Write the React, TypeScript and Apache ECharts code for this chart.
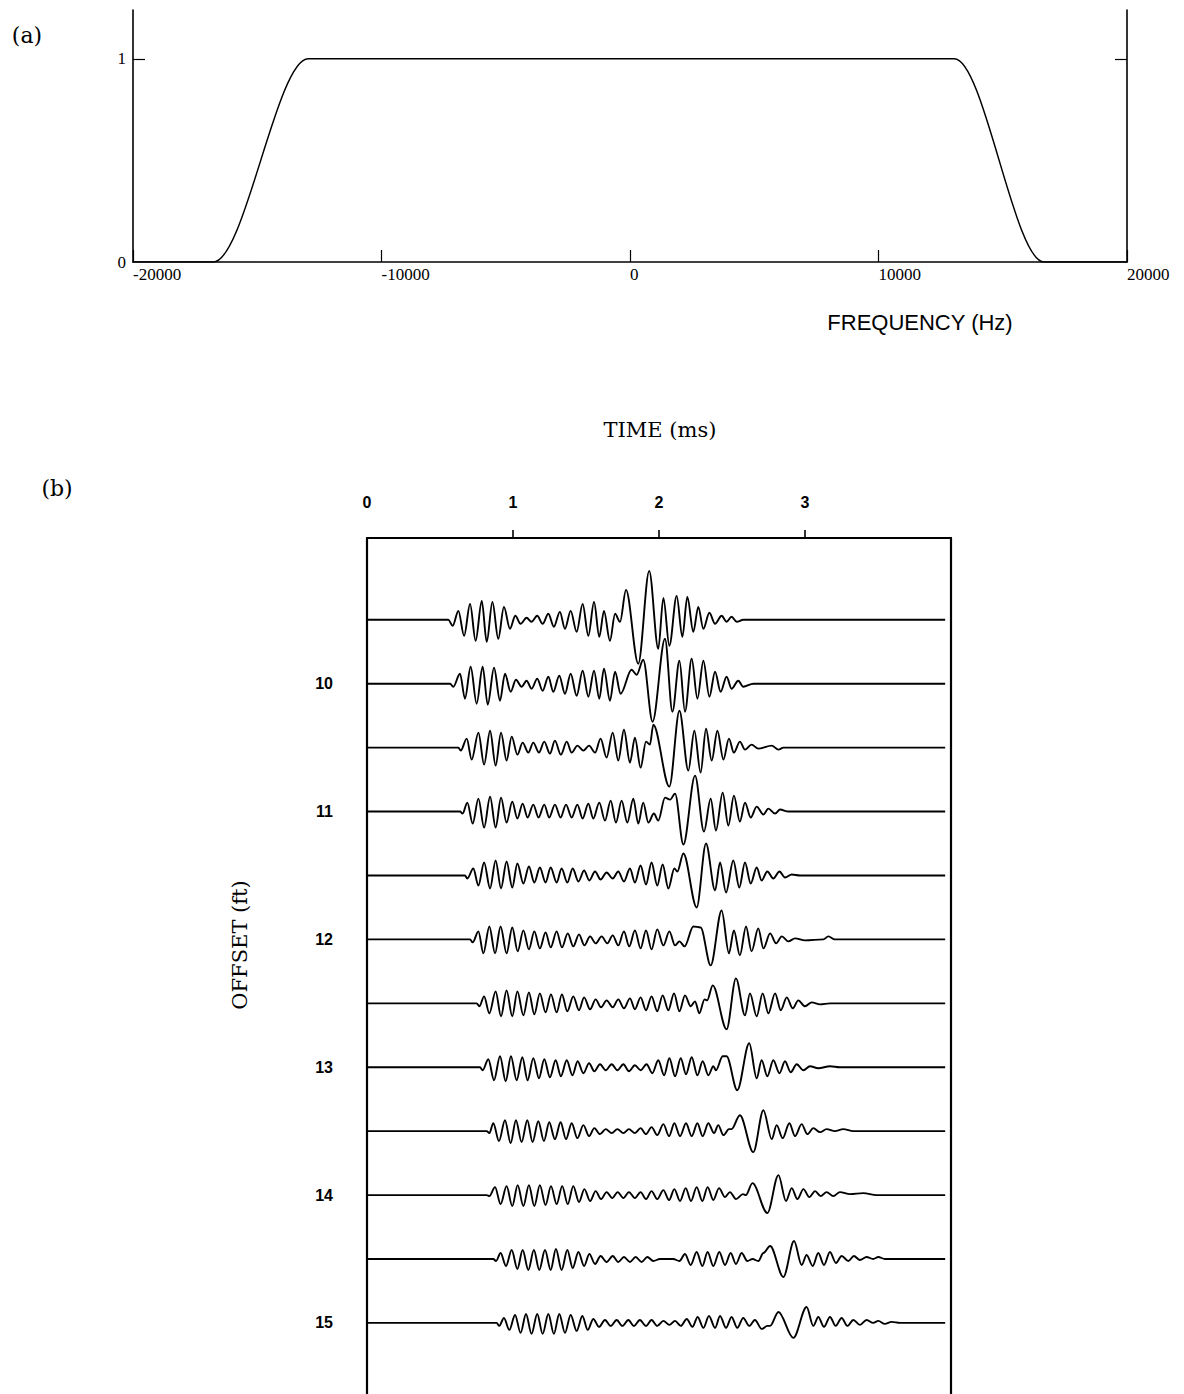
import React, { useEffect, useRef } from "react";
import * as echarts from "echarts";

// ---------- Panel (a): filter response ----------
const FILTER_FREQ = [-20000, -16770, -12950, 13050, 16660, 20000];
const FILTER_GAIN = [0, 0, 1, 1, 0, 0];
const FREQ_LABELS = [-20000, -10000, 0, 10000, 20000];
const GAIN_LABELS = [0, 1];

// ---------- Panel (b): traces ----------
const TIME_LABELS = [0, 1, 2, 3];
const TIME_TICKS = [1, 2, 3];
const OFFSET_LABELS = [10, 11, 12, 13, 14, 15];
const TRACE_OFFSETS = [9.5, 10, 10.5, 11, 11.5, 12, 12.5, 13, 13.5, 14, 14.5, 15];
const TRACE_START = 0;
const TRACE_END = 3.96;
const AMP_GAIN = 1 / 128; // ft of offset per amplitude unit

// [time ms, amplitude] at each peak / trough
const TRACE_1 = [[0.557,0],[0.587,-6],[0.626,9],[0.665,-16],[0.706,16],[0.744,-21],[0.786,19],[0.820,-22],[0.859,18],[0.899,-19],[0.938,13],[0.979,-9],[1.016,4],[1.052,-4],[1.093,2],[1.127,-2],[1.166,4],[1.203,-4],[1.242,6],[1.280,-7],[1.321,8],[1.356,-9],[1.395,9],[1.436,-12],[1.477,16],[1.516,-16],[1.555,18],[1.591,-17],[1.623,9],[1.664,-21],[1.699,6],[1.733,-2],[1.774,30],[1.858,-44],[1.933,49],[1.995,-29],[2.030,22],[2.071,-26],[2.121,24],[2.160,-17],[2.194,23],[2.235,-12],[2.269,13],[2.304,-9],[2.345,7],[2.384,-4],[2.429,4],[2.463,-2],[2.497,3],[2.532,-2],[2.577,0]];
const TRACE_2 = [[0.569,0],[0.591,-3],[0.637,10],[0.671,-15],[0.710,17],[0.751,-20],[0.792,17],[0.827,-21],[0.870,16],[0.911,-17],[0.945,10],[0.984,-8],[1.020,4],[1.059,-3],[1.093,3],[1.127,-5],[1.166,5],[1.203,-7],[1.242,7],[1.276,-8],[1.317,8],[1.356,-10],[1.395,10],[1.436,-12],[1.477,13],[1.516,-13],[1.555,13],[1.591,-15],[1.623,15],[1.664,-17],[1.699,12],[1.737,-10],[1.812,14],[1.847,9],[1.892,24],[1.956,-38],[2.041,45],[2.092,-28],[2.140,23],[2.178,-28],[2.224,25],[2.263,-15],[2.304,23],[2.345,-13],[2.384,12],[2.422,-8],[2.463,7],[2.497,-5],[2.543,3],[2.577,-3],[2.646,0]];
const TRACE_3 = [[0.626,0],[0.642,-3],[0.683,9],[0.717,-12],[0.763,15],[0.802,-17],[0.843,17],[0.881,-18],[0.918,15],[0.956,-13],[0.991,11],[1.030,-7],[1.066,5],[1.105,-5],[1.139,5],[1.178,-5],[1.214,6],[1.253,-6],[1.287,7],[1.328,-7],[1.368,6],[1.402,-5],[1.441,2],[1.482,-3],[1.521,2],[1.562,-5],[1.600,9],[1.641,-10],[1.683,15],[1.721,-13],[1.760,18],[1.801,-15],[1.835,10],[1.874,-20],[1.911,6],[1.938,3],[1.961,23],[2.071,-39],[2.140,37],[2.201,-23],[2.242,17],[2.285,-25],[2.322,19],[2.361,-13],[2.400,17],[2.441,-12],[2.479,9],[2.513,-5],[2.554,6],[2.589,-2],[2.634,3],[2.680,-1],[2.772,2],[2.818,-2],[2.852,0]];
const TRACE_4 = [[0.637,0],[0.655,-2],[0.687,9],[0.724,-12],[0.763,13],[0.802,-16],[0.843,15],[0.881,-16],[0.918,14],[0.956,-11],[0.995,10],[1.030,-7],[1.066,8],[1.100,-6],[1.139,7],[1.175,-6],[1.214,7],[1.248,-6],[1.287,7],[1.326,-6],[1.363,7],[1.402,-6],[1.441,7],[1.477,-7],[1.516,8],[1.550,-7],[1.591,9],[1.630,-9],[1.669,11],[1.705,-11],[1.744,11],[1.783,-11],[1.824,13],[1.858,-12],[1.892,9],[1.927,-11],[1.965,-2],[1.995,-9],[2.041,14],[2.076,12],[2.110,18],[2.167,-33],[2.247,36],[2.308,-20],[2.354,13],[2.390,-19],[2.436,19],[2.475,-14],[2.513,16],[2.554,-10],[2.589,9],[2.628,-6],[2.669,5],[2.715,-3],[2.749,3],[2.795,-2],[2.829,2],[2.886,0]];
const TRACE_5 = [[0.671,0],[0.687,-3],[0.728,7],[0.763,-10],[0.802,13],[0.843,-13],[0.881,15],[0.918,-13],[0.956,14],[0.995,-12],[1.030,12],[1.071,-8],[1.109,9],[1.146,-7],[1.184,8],[1.223,-7],[1.258,8],[1.299,-7],[1.333,7],[1.372,-7],[1.409,7],[1.448,-6],[1.487,5],[1.523,-5],[1.562,4],[1.600,-4],[1.641,3],[1.683,-3],[1.721,4],[1.760,-6],[1.801,7],[1.835,-7],[1.874,10],[1.911,-9],[1.949,13],[1.988,-10],[2.025,11],[2.064,-13],[2.105,7],[2.126,4],[2.167,22],[2.258,-32],[2.322,32],[2.384,-15],[2.418,13],[2.459,-17],[2.509,15],[2.550,-12],[2.589,13],[2.628,-8],[2.669,8],[2.703,-5],[2.742,4],[2.783,-3],[2.825,4],[2.863,-2],[2.909,1],[2.966,0]];
const TRACE_6 = [[0.706,0],[0.724,-3],[0.763,8],[0.797,-14],[0.838,13],[0.877,-14],[0.915,13],[0.956,-14],[0.995,12],[1.032,-12],[1.071,9],[1.109,-10],[1.146,8],[1.184,-9],[1.223,7],[1.258,-8],[1.299,8],[1.335,-8],[1.375,6],[1.413,-7],[1.452,5],[1.489,-6],[1.528,3],[1.566,-4],[1.607,3],[1.646,-4],[1.683,4],[1.721,-6],[1.760,8],[1.796,-7],[1.835,9],[1.874,-9],[1.911,9],[1.949,-10],[1.988,10],[2.030,-6],[2.071,8],[2.110,-6],[2.140,-2],[2.175,-7],[2.235,13],[2.285,12],[2.354,-26],[2.429,29],[2.479,-14],[2.513,9],[2.554,-16],[2.596,13],[2.634,-12],[2.680,11],[2.715,-9],[2.761,6],[2.802,-4],[2.841,3],[2.886,-2],[2.932,1],[3.000,-1],[3.126,0],[3.160,3],[3.205,0]];
const TRACE_7 = [[0.751,0],[0.770,-3],[0.802,7],[0.838,-10],[0.881,12],[0.918,-13],[0.956,13],[0.995,-13],[1.030,12],[1.071,-12],[1.109,11],[1.146,-11],[1.184,10],[1.223,-9],[1.260,9],[1.299,-9],[1.335,9],[1.372,-8],[1.413,7],[1.452,-7],[1.487,6],[1.528,-6],[1.566,4],[1.603,-4],[1.641,3],[1.683,-4],[1.721,4],[1.760,-5],[1.801,5],[1.835,-6],[1.874,6],[1.911,-7],[1.949,7],[1.988,-8],[2.025,8],[2.064,-7],[2.103,10],[2.140,-8],[2.178,8],[2.217,-3],[2.247,2],[2.276,-10],[2.312,4],[2.330,3],[2.368,18],[2.463,-26],[2.527,25],[2.589,-12],[2.623,10],[2.669,-13],[2.710,10],[2.749,-10],[2.795,10],[2.834,-7],[2.875,6],[2.916,-5],[2.954,3],[3.000,-3],[3.046,1],[3.103,-1],[3.171,0]];
const TRACE_8 = [[0.774,0],[0.792,-3],[0.831,8],[0.870,-13],[0.911,11],[0.950,-14],[0.986,11],[1.025,-13],[1.064,10],[1.100,-13],[1.139,9],[1.178,-11],[1.214,8],[1.253,-10],[1.292,7],[1.328,-9],[1.368,7],[1.407,-8],[1.443,6],[1.482,-6],[1.521,4],[1.557,-4],[1.596,3],[1.635,-3],[1.676,3],[1.715,-3],[1.756,3],[1.794,-4],[1.835,2],[1.874,-3],[1.915,3],[1.954,-6],[1.995,7],[2.035,-8],[2.071,9],[2.110,-9],[2.149,9],[2.185,-7],[2.224,10],[2.263,-8],[2.299,6],[2.338,-8],[2.372,1],[2.390,-3],[2.436,11],[2.463,11],[2.536,-23],[2.618,24],[2.669,-11],[2.703,7],[2.742,-9],[2.783,7],[2.825,-6],[2.863,6],[2.902,-5],[2.943,3],[2.989,-3],[3.034,1],[3.091,-1],[3.171,1],[3.239,0]];
const TRACE_9 = [[0.820,0],[0.838,-2],[0.865,8],[0.904,-10],[0.945,11],[0.984,-12],[1.020,11],[1.059,-11],[1.098,11],[1.134,-11],[1.173,10],[1.212,-10],[1.248,9],[1.287,-8],[1.326,9],[1.363,-8],[1.402,8],[1.441,-7],[1.482,6],[1.521,-5],[1.557,3],[1.596,-3],[1.635,2],[1.676,-2],[1.715,2],[1.756,-2],[1.794,2],[1.835,-2],[1.874,3],[1.911,-3],[1.949,4],[1.988,-4],[2.030,7],[2.069,-5],[2.105,8],[2.144,-5],[2.185,8],[2.224,-5],[2.263,8],[2.299,-5],[2.338,8],[2.377,-2],[2.406,6],[2.441,-4],[2.479,2],[2.497,2],[2.554,16],[2.646,-21],[2.715,21],[2.772,-8],[2.806,6],[2.847,-7],[2.893,8],[2.932,-5],[2.977,7],[3.016,-3],[3.057,3],[3.103,-1],[3.148,2],[3.205,0],[3.262,2],[3.331,0]];
const TRACE_10 = [[0.820,0],[0.838,-1],[0.877,8],[0.915,-9],[0.956,9],[0.995,-11],[1.032,10],[1.071,-11],[1.109,10],[1.146,-11],[1.184,10],[1.223,-10],[1.260,9],[1.299,-9],[1.337,9],[1.375,-9],[1.413,9],[1.452,-7],[1.489,6],[1.528,-6],[1.566,4],[1.603,-4],[1.641,3],[1.680,-3],[1.717,3],[1.756,-3],[1.794,3],[1.835,-3],[1.874,3],[1.911,-4],[1.949,4],[1.988,-4],[2.030,5],[2.069,-5],[2.105,6],[2.144,-6],[2.183,7],[2.219,-6],[2.258,8],[2.297,-6],[2.333,8],[2.372,-5],[2.411,7],[2.452,-2],[2.486,3],[2.527,-4],[2.575,1],[2.595,0],[2.640,12],[2.742,-18],[2.818,20],[2.870,-6],[2.909,7],[2.948,-4],[2.989,6],[3.030,-2],[3.069,4],[3.107,-1],[3.148,3],[3.194,-1],[3.239,3],[3.308,1],[3.399,2],[3.490,0]];
const TRACE_11 = [[0.865,0],[0.884,-2],[0.915,6],[0.952,-7],[0.991,9],[1.030,-10],[1.066,9],[1.105,-11],[1.143,9],[1.180,-11],[1.219,9],[1.258,-11],[1.294,10],[1.333,-11],[1.372,9],[1.409,-9],[1.448,7],[1.487,-7],[1.523,5],[1.562,-5],[1.600,3],[1.641,-3],[1.683,3],[1.721,-3],[1.760,2],[1.801,-3],[1.840,2],[1.881,-3],[1.920,2],[1.961,-2],[2.006,0],[2.098,0],[2.140,-2],[2.178,5],[2.217,-6],[2.258,7],[2.297,-7],[2.333,7],[2.372,-7],[2.413,7],[2.452,-6],[2.491,6],[2.527,-5],[2.566,6],[2.605,-2],[2.641,0],[2.680,-2],[2.715,6],[2.761,13],[2.852,-18],[2.925,18],[2.977,-6],[3.011,4],[3.053,-7],[3.091,6],[3.130,-6],[3.171,7],[3.212,-4],[3.251,3],[3.297,-2],[3.335,3],[3.376,-1],[3.422,2],[3.467,0],[3.502,2],[3.547,0]];
const TRACE_12 = [[0.888,0],[0.906,-3],[0.938,5],[0.975,-7],[1.014,8],[1.052,-10],[1.089,9],[1.127,-11],[1.166,9],[1.203,-11],[1.242,9],[1.280,-11],[1.317,9],[1.356,-10],[1.395,8],[1.436,-8],[1.475,7],[1.512,-7],[1.550,4],[1.589,-4],[1.630,3],[1.669,-3],[1.710,3],[1.749,-3],[1.790,3],[1.828,-3],[1.869,3],[1.911,-3],[1.949,3],[1.988,-3],[2.030,2],[2.071,-2],[2.110,2],[2.149,-3],[2.190,4],[2.229,-4],[2.265,6],[2.304,-5],[2.342,7],[2.384,-5],[2.418,7],[2.459,-5],[2.497,6],[2.536,-5],[2.577,5],[2.618,-3],[2.657,3],[2.703,-6],[2.742,-3],[2.761,-3],[2.818,11],[2.920,-15],[3.011,16],[3.057,-3],[3.091,6],[3.130,-4],[3.171,6],[3.210,-3],[3.251,5],[3.290,-3],[3.331,3],[3.376,-2],[3.422,3],[3.467,0],[3.502,2],[3.547,-1],[3.593,1],[3.651,0]];

const TRACES = [TRACE_1, TRACE_2, TRACE_3, TRACE_4, TRACE_5, TRACE_6, TRACE_7, TRACE_8, TRACE_9, TRACE_10, TRACE_11, TRACE_12];

const INK = "#000";

export default function App() {
  const ref = useRef<HTMLDivElement>(null);

  useEffect(() => {
    if (!ref.current) return;
    const chart = echarts.init(ref.current, null, { renderer: "svg" });

    const traceSeries = TRACES.map((tr, i) => {
      const off = TRACE_OFFSETS[i];
      const data = [[TRACE_START, off], ...tr.map(([t, a]) => [t, off - a * AMP_GAIN]), [TRACE_END, off]];
      return {
        type: "line",
        xAxisIndex: 1,
        yAxisIndex: 2,
        data,
        smooth: 0.33,
        smoothMonotone: "x",
        symbol: "none",
        silent: true,
        clip: false,
        lineStyle: { color: INK, width: 1.9 },
      };
    });

    const serifLabel = { fontFamily: "Liberation Serif", fontSize: 17, color: INK };
    const boldSans = { fontFamily: "Liberation Sans", fontWeight: "bold", fontSize: 16, color: INK };

    chart.setOption({
      animation: false,
      backgroundColor: "#fff",
      grid: [
        { left: 133, top: 10, width: 994, height: 252 },
        { left: 367, top: 538, width: 584, height: 856 },
      ],
      xAxis: [
        {
          gridIndex: 0, type: "value", min: -20000, max: 20000, interval: 10000, position: "bottom",
          axisLine: { show: true, onZero: false, lineStyle: { color: INK, width: 1.6 } },
          axisTick: { show: true, inside: true, length: 12, lineStyle: { color: INK, width: 1.2 } },
          axisLabel: { show: true, align: "left", margin: 4, customValues: FREQ_LABELS, formatter: (v: number) => String(v), ...serifLabel },
          splitLine: { show: false },
        },
        {
          gridIndex: 1, type: "value", min: 0, max: 4, interval: 1, position: "top",
          axisLine: { show: true, onZero: false, lineStyle: { color: INK, width: 2.2 } },
          axisTick: { show: true, inside: false, length: 8, customValues: TIME_TICKS, lineStyle: { color: INK, width: 1.6 } },
          axisLabel: { show: true, margin: 28, customValues: TIME_LABELS, formatter: (v: number) => String(v), ...boldSans },
          splitLine: { show: false },
        },
      ],
      yAxis: [
        {
          gridIndex: 0, type: "value", min: 0, max: 1.24, position: "left",
          axisLine: { show: true, onZero: false, lineStyle: { color: INK, width: 1.6 } },
          axisTick: { show: true, inside: true, length: 12, customValues: [1], lineStyle: { color: INK, width: 1.2 } },
          axisLabel: { show: true, margin: 7, customValues: GAIN_LABELS, formatter: (v: number) => String(v), ...serifLabel },
          splitLine: { show: false },
        },
        {
          gridIndex: 0, type: "value", min: 0, max: 1.24, position: "right",
          axisLine: { show: true, onZero: false, lineStyle: { color: INK, width: 1.6 } },
          axisTick: { show: true, inside: true, length: 12, customValues: [1], lineStyle: { color: INK, width: 1.2 } },
          axisLabel: { show: false },
          splitLine: { show: false },
        },
        {
          gridIndex: 1, type: "value", min: 8.86, max: 15.556, inverse: true, position: "left",
          axisLine: { show: true, onZero: false, lineStyle: { color: INK, width: 2.2 } },
          axisTick: { show: false },
          axisLabel: { show: true, margin: 34, customValues: OFFSET_LABELS, formatter: (v: number) => String(v), ...boldSans },
          splitLine: { show: false },
        },
        {
          gridIndex: 1, type: "value", min: 8.86, max: 15.556, inverse: true, position: "right",
          axisLine: { show: true, onZero: false, lineStyle: { color: INK, width: 2.2 } },
          axisTick: { show: false },
          axisLabel: { show: false },
          splitLine: { show: false },
        },
      ],
      graphic: [
        { type: "text", x: 27, y: 35, style: { text: "(a)", fill: INK, font: '22px "DejaVu Serif"', align: "center", verticalAlign: "middle" } },
        { type: "text", x: 920, y: 322, style: { text: "FREQUENCY (Hz)", fill: INK, font: '22px "Liberation Sans"', align: "center", verticalAlign: "middle" } },
        { type: "text", x: 660, y: 430, style: { text: "TIME (ms)", fill: INK, font: '21px "DejaVu Serif"', align: "center", verticalAlign: "middle" } },
        { type: "text", x: 57, y: 488, style: { text: "(b)", fill: INK, font: '22px "DejaVu Serif"', align: "center", verticalAlign: "middle" } },
        { type: "text", x: 240, y: 945, rotation: Math.PI / 2, style: { text: "OFFSET (ft)", fill: INK, font: '21px "DejaVu Serif"', align: "center", verticalAlign: "middle" } },
      ],
      series: [
        {
          type: "line",
          xAxisIndex: 0,
          yAxisIndex: 0,
          data: FILTER_FREQ.map((f, i) => [f, FILTER_GAIN[i]]),
          smooth: 0.33,
          smoothMonotone: "x",
          symbol: "none",
          silent: true,
          lineStyle: { color: INK, width: 1.5 },
        },
        ...traceSeries,
      ],
    });

    return () => chart.dispose();
  }, []);

  return (
    <div
      ref={ref}
      style={{ position: "absolute", left: 0, top: 0, width: 1184, height: 1394, background: "#fff" }}
    />
  );
}
